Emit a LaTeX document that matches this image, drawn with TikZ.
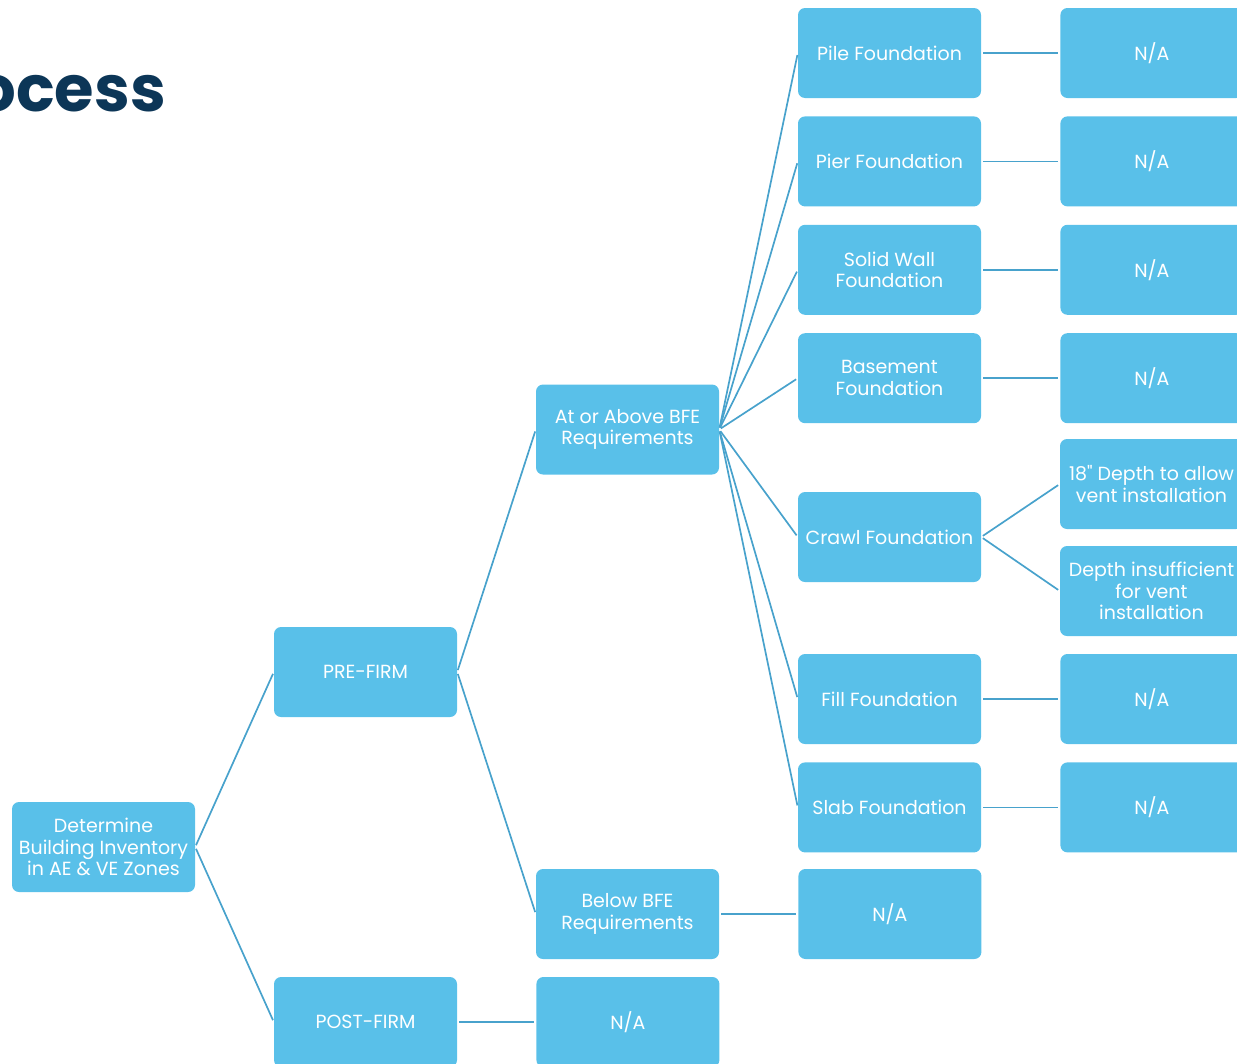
\documentclass[tikz,border=0pt]{standalone}
\usepackage{fontspec}
\setmainfont{Poppins}[Ligatures=TeXOff]
\usetikzlibrary{positioning}
\definecolor{boxblue}{RGB}{89,192,233}
\definecolor{linkblue}{RGB}{72,162,204}
\definecolor{titlenavy}{RGB}{12,54,87}

\begin{document}
\begin{tikzpicture}[
    x=1pt, y=-1pt,
    node distance=18pt and 79pt,
    box/.style={rectangle, rounded corners=7pt, fill=boxblue, text=white,
                minimum width=183pt, minimum height=90pt, align=center,
                inner sep=2pt, font=\fontsize{19}{21.5}\selectfont},
    link/.style={draw=linkblue, line width=1.7pt, shorten <=2pt, shorten >=2pt},
  ]
    \useasboundingbox (0,0) rectangle (1237,1063);

    \node[font=\fontsize{64}{64}\selectfont\bfseries, text=titlenavy,
          anchor=base east, inner sep=0pt] (title) at (166,111) {ocess};

    \node[box] (root) at (103.5,847) {Determine\\Building Inventory\\in AE \& VE Zones};
    \node[box] (pre)  at (365.5,672)  {PRE-FIRM};
    \node[box] (post) at (365.5,1022) {POST-FIRM};
    \node[box, right=of post] (postna) {N/A};

    \node[box] (above) at (627.5,429.5) {At or Above BFE\\Requirements};
    \node[box] (below) at (627.5,914)   {Below BFE\\Requirements};
    \node[box, right=of below] (belowna) {N/A};

    \node[box] (pile) at (889.5,53)      {Pile Foundation};
    \node[box, below=of pile]  (pier)  {Pier Foundation};
    \node[box, below=of pier]  (solid) {Solid Wall\\Foundation};
    \node[box, below=of solid] (base)  {Basement\\Foundation};
    \node[box] (crawl) at (889.5,537)    {Crawl Foundation};
    \node[box] (fill)  at (889.5,699)    {Fill Foundation};
    \node[box, below=of fill]  (slab)  {Slab Foundation};

    \node[box, right=of pile]  (pilena)  {N/A};
    \node[box, right=of pier]  (pierna)  {N/A};
    \node[box, right=of solid] (solidna) {N/A};
    \node[box, right=of base]  (basena)  {N/A};
    \node[box] (vent)  at (1151.5,484) {18" Depth to allow\\vent installation};
    \node[box] (novent) at (1151.5,591) {Depth insufficient\\for vent\\installation};
    \node[box, right=of fill]  (fillna)  {N/A};
    \node[box, right=of slab]  (slabna)  {N/A};

    \draw[link] (root.east) -- (pre.west);
    \draw[link] (root.east) -- (post.west);
    \draw[link] (post.east) -- (postna.west);
    \draw[link] (pre.east)  -- (above.west);
    \draw[link] (pre.east)  -- (below.west);
    \draw[link] (below.east) -- (belowna.west);

    \draw[link] (above.east) -- (pile.west);
    \draw[link] (above.east) -- (pier.west);
    \draw[link] (above.east) -- (solid.west);
    \draw[link] (above.east) -- (base.west);
    \draw[link] (above.east) -- (crawl.west);
    \draw[link] (above.east) -- (fill.west);
    \draw[link] (above.east) -- (slab.west);

    \draw[link] (pile.east)  -- (pilena.west);
    \draw[link] (pier.east)  -- (pierna.west);
    \draw[link] (solid.east) -- (solidna.west);
    \draw[link] (base.east)  -- (basena.west);
    \draw[link] (crawl.east) -- (vent.west);
    \draw[link] (crawl.east) -- (novent.west);
    \draw[link] (fill.east)  -- (fillna.west);
    \draw[link] (slab.east)  -- (slabna.west);
  \end{tikzpicture}
\end{document}
